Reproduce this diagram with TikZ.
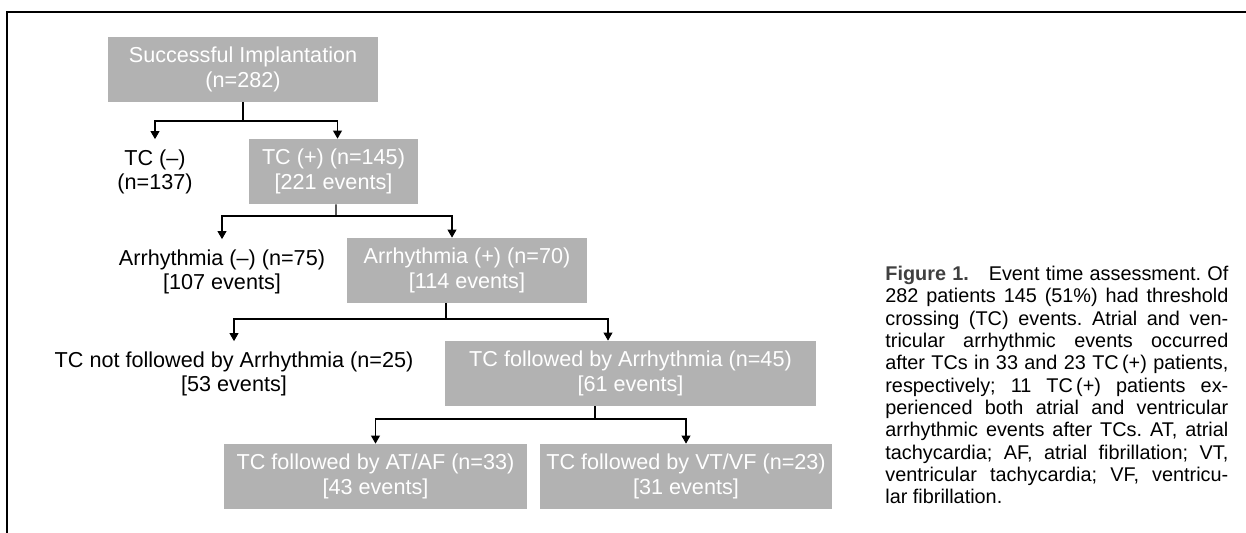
\documentclass[tikz,border=0pt]{standalone}
\usepackage{fontspec}
\setmainfont{Liberation Sans}
\usetikzlibrary{arrows.meta}
\usetikzlibrary{positioning}
\frenchspacing

\begin{document}
\begin{tikzpicture}[
  grbox/.style={fill=black!30,text=white,minimum height=1.3cm,inner sep=0pt,align=center,font=\fontsize{12.3}{13.8}\selectfont},
  plaintext/.style={minimum height=1.3cm,inner sep=0pt,align=center,font=\fontsize{12.3}{13.8}\selectfont},
  conn/.style={line width=0.6pt},
  arr/.style={conn,-{Triangle[width=5pt,length=4.5pt]}}]
\useasboundingbox (0,0) rectangle (24.92,10.66);
\draw[line width=1.4pt] (0.14,0) -- (0.14,10.42) -- (24.92,10.42);

\node[grbox,minimum width=5.4cm] (impl) at (4.86,9.27) {Successful Implantation\\(n=282)};
\node[plaintext] (tcneg) at (3.10,7.22) {TC (\textendash)\\(n=137)};
\node[grbox,minimum width=3.38cm] (tcpos) at (6.67,7.23) {TC (+) (n=145)\\{}[221 events]};
\node[plaintext] (arneg) at (4.44,5.22) {Arrhythmia (\textendash) (n=75)\\{}[107 events]};
\node[grbox,minimum width=4.8cm] (arpos) at (9.34,5.25) {Arrhythmia (+) (n=70)\\{}[114 events]};
\node[plaintext] (tcnfa) at (4.68,3.18) {TC not followed by Arrhythmia (n=25)\\{}[53 events]};
\node[grbox,minimum width=7.42cm] (tcfa) at (12.61,3.19) {TC followed by Arrhythmia (n=45)\\{}[61 events]};
\node[grbox,minimum width=6.06cm] (ataf) at (7.51,1.13) {TC followed by AT/AF (n=33)\\{}[43 events]};
\node[grbox,minimum width=5.84cm] (vtvf) at (13.72,1.13) {TC followed by VT/VF (n=23)\\{}[31 events]};

% split points
\coordinate (j1) at (4.86,8.24);
\coordinate (j2) at (6.72,6.34);
\coordinate (j3) at (8.92,4.28);
\coordinate (j4) at (11.90,2.28);

\draw[conn] (impl.south) -- (j1);
\draw[arr] (j1) -| (tcneg.north);
\draw[arr] (j1) -| ([xshift=0.08cm]tcpos.north);

\draw[conn] ([xshift=0.05cm]tcpos.south) -- (j2);
\draw[arr] (j2) -| (arneg.north);
\draw[arr] (j2) -| ([xshift=-0.3cm]arpos.north);

\draw[conn] ([xshift=-0.42cm]arpos.south) -- (j3);
\draw[arr] (j3) -| (tcnfa.north);
\draw[arr] (j3) -| ([xshift=-0.45cm]tcfa.north);

\draw[conn] ([xshift=-0.71cm]tcfa.south) -- (j4);
\draw[arr] (j4) -| (ataf.north);
\draw[arr] (j4) -| (vtvf.north);

\node[anchor=west,text width=6.86cm,align=justify,inner sep=0pt,font=\fontsize{11.3}{12.7}\selectfont] (capt) at (17.70,2.96) {%
{\color{black!75}\bfseries Figure 1.}\quad Event time assessment. Of\linebreak
282 patients 145 (51\%) had threshold\linebreak
crossing (TC) events. Atrial and ven-\linebreak
tricular arrhythmic events occurred\linebreak
after TCs in 33 and 23 TC\,(+) patients,\linebreak
respectively; 11 TC\,(+) patients ex-\linebreak
perienced both atrial and ventricular\linebreak
arrhythmic events after TCs. AT, atrial\linebreak
tachycardia; AF, atrial fibrillation; VT,\linebreak
ventricular tachycardia; VF, ventricu-\linebreak
lar fibrillation.};

\end{tikzpicture}
\end{document}
